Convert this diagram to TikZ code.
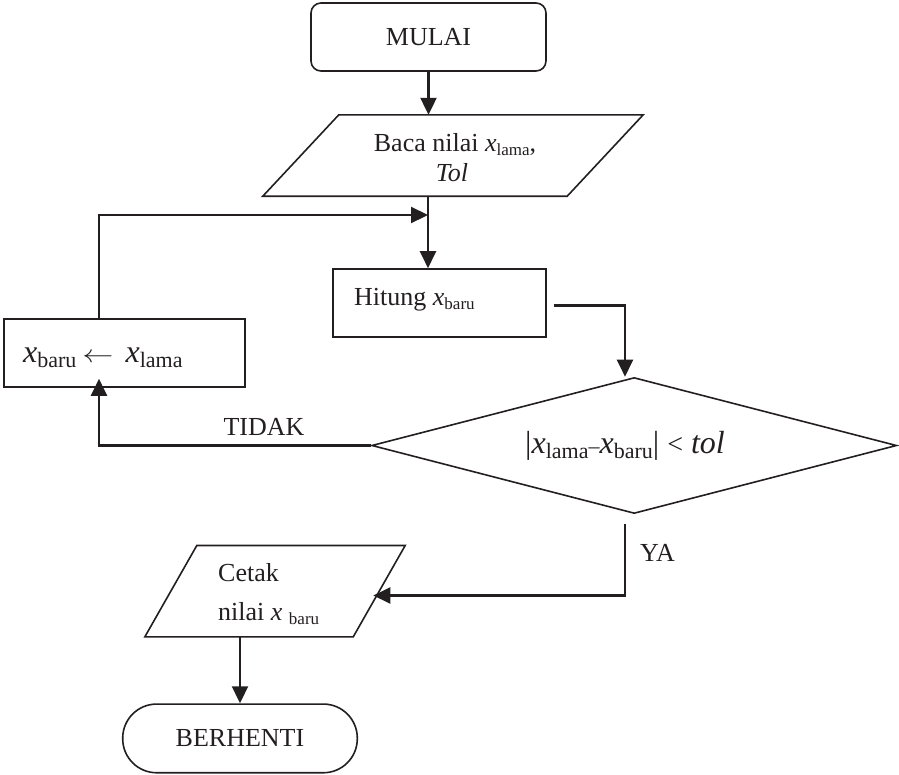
\documentclass[tikz,border=0pt]{standalone}
\usepackage{fontspec}
\setmainfont{Liberation Serif}
\usetikzlibrary{arrows.meta,shapes.geometric}
\definecolor{ink}{HTML}{231F20}
\newcommand{\sbs}[1]{{\fontsize{17}{17}\selectfont\raisebox{-4pt}{#1}}}
\newcommand{\sbb}[1]{{\fontsize{22}{22}\selectfont\raisebox{-5pt}{#1}}}
\begin{document}
\begin{tikzpicture}[x=1pt,y=-1pt,
  font=\fontsize{26}{32}\selectfont, color=ink,
  outl/.style={draw=ink, line width=1.6pt, inner sep=0pt},
  box/.style={outl, rectangle},
  conn/.style={draw=ink, line width=2.2pt},
  arr/.style={conn, -{Triangle[length=17pt,width=16pt]}},
  txt/.style={inner sep=0pt, text=ink}]
\useasboundingbox (0,0) rectangle (899,774);

% nodes
\node[box, rounded corners=10pt, minimum width=235pt, minimum height=68pt] (start) at (428.5,37) {MULAI};

\node[inner sep=0pt, minimum width=380pt, minimum height=81pt] (inp) at (453,155.5) {};
\draw[outl] ([xshift=76pt]inp.north west) -- (inp.north east) -- ([xshift=-76pt]inp.south east) -- (inp.south west) -- cycle;
\node[txt, anchor=base] (inpa) at (455,151.7) {Baca nilai \textit{x}\sbs{lama},};
\node[txt, anchor=base] (inpb) at (452,181.7) {\textit{Tol}};

\node[box, minimum width=213pt, minimum height=68pt] (hit) at (439.5,303) {};
\node[txt, anchor=base west] (hittxt) at (354,305) {Hitung \textit{x}\sbs{baru}};

\node[box, minimum width=241pt, minimum height=68pt] (upd) at (124.5,353) {};
\node[txt, anchor=base west] (updtxt) at (23,362) {\fontsize{32}{36}\selectfont\textit{x}\sbb{baru}\hspace{6pt}\scalebox{1.25}[1]{$\leftarrow$}\hspace{12pt}\textit{x}\sbb{lama}};

\node[outl, diamond, minimum width=525pt, minimum height=136pt] (dec) at (634.2,445.5) {};
\node[txt, anchor=base] (dectxt) at (625,453) {\fontsize{32}{36}\selectfont |\textit{x}\sbb{lama}{\fontsize{22}{22}\selectfont –}\textit{x}\sbb{baru}| {\fontsize{28}{30}\selectfont <} \textit{tol}};

\node[inner sep=0pt, minimum width=260pt, minimum height=91pt] (out) at (275,591.2) {};
\draw[outl] ([xshift=52pt]out.north west) -- (out.north east) -- ([xshift=-52pt]out.south east) -- (out.south west) -- cycle;
\node[txt, anchor=base west] (outa) at (218,581.7) {Cetak};
\node[txt, anchor=base west] (outb) at (218,620.7) {nilai \textit{x} \sbs{baru}};

\node[box, rounded corners=34pt, minimum width=234.6pt, minimum height=68.7pt] (stop) at (240,738.4) {BERHENTI};

\node[txt, anchor=base] (tidak) at (264,435) {TIDAK};
\node[txt, anchor=base west] (ya) at (640,561.7) {YA};

% coordinates
\coordinate (j) at (428,215);
\coordinate (lp) at (99,215);
\coordinate (dr) at (625,305.5);
\coordinate (yc) at (625,595.5);
\coordinate (yin) at (373.3,595.5);

% connectors
\draw[arr] (start.south) -- (start.south |- inp.north);
\draw[arr] (j |- inp.south) -- (j |- hit.north);
\draw[arr] (lp |- upd.north) -- (lp) -- (j);
\draw[arr, shorten <=7pt] (hit.east |- dr) -- (dr) -- (dr |- dec.north);
\draw[arr, shorten >=-9pt] (dec.west) -- (lp |- dec.west) -- (lp |- upd.south);
\draw[arr, shorten <=10pt] (dr |- dec.south) -- (yc) -- (yin);
\draw[arr] (stop.north |- out.south) -- (stop.north);
\end{tikzpicture}
\end{document}
